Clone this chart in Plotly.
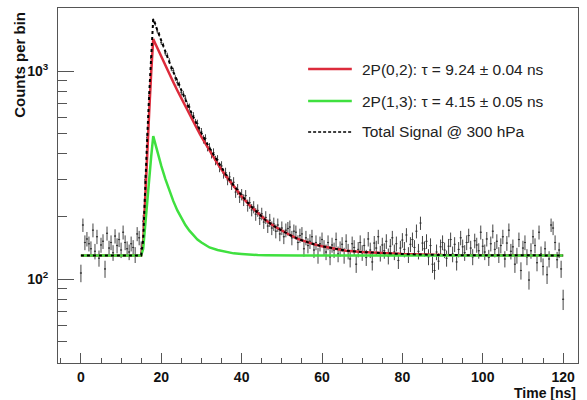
import plotly.graph_objects as go

# ---------------- data ----------------
bin_start = 0.0
bin_width = 0.5
counts = [
    # 0.0 - 14.5 ns
    107, 182, 150, 156, 148, 140, 172, 136, 160, 126, 146, 152, 112, 166, 141,
    150, 134, 161, 145, 155, 138, 168, 150, 140, 135, 148, 142, 131, 165, 158,
    # 15.0 - 17.5 ns (rise)
    140, 190, 300, 480, 760, 1150,
    # 18.0 - 60.0 ns (decay)
    1750, 1690, 1560, 1500, 1370, 1330, 1220, 1190, 1120, 1030,
    1005, 925, 880, 860, 790, 775, 740, 680, 672, 615,
    610, 565, 560, 515, 510, 470, 475, 432, 430, 400,
    405, 372, 375, 345, 350, 322, 325, 300, 310, 285,
    292, 262, 270, 248, 255, 240, 252, 226, 233, 215,
    222, 205, 214, 196, 206, 188, 198, 180, 192, 176,
    184, 170, 182, 165, 176, 160, 172, 175, 178, 158,
    170, 168, 150, 162, 165, 140, 158, 145, 152, 160,
    138, 150, 130, 148, 155,
    # 60.5 - 120.0 ns (background)
    142, 135, 150, 128, 146, 138, 155, 132, 140, 147,
    130, 152, 136, 125, 148, 142, 118, 139, 150, 134,
    145, 127, 156, 138, 121, 149, 141, 160, 133, 146,
    137, 152, 129, 144, 158, 135, 148, 123, 141, 154,
    139, 163, 131, 147, 155, 142, 170, 136, 186, 149,
    140, 152, 128, 145, 118, 110, 135, 122, 143, 150,
    138, 126, 144, 155, 132, 147, 121, 139, 158, 143,
    134, 150, 162, 141, 128, 153, 146, 137, 168, 144,
    135, 156, 127, 148, 170, 139, 152, 131, 145, 160,
    125, 149, 172, 136, 143, 118, 130, 155, 110, 141,
    150, 128, 99, 137, 160, 145, 120, 168, 132, 115,
    140, 105, 125, 182, 176, 150, 124, 138, 112, 80,
]
time_ns = [bin_start + i * bin_width for i in range(len(counts))]
count_err = [c ** 0.5 for c in counts]

fit_t = [0, 15, 15.5, 16, 16.5, 17, 17.5, 18, 18.5, 19, 19.5, 20, 21, 22, 23, 24,
         25, 26, 27, 28, 29, 30, 32, 34, 36, 38, 40, 42, 44, 46, 48, 50, 52,
         54, 56, 58, 60, 63, 66, 70, 75, 80, 90, 100, 120]
fit_red = [130, 130, 150, 260, 400, 640, 990, 1425, 1357, 1292, 1231, 1173, 1066,
           970, 884, 807, 738, 675, 619, 569, 524, 483, 415, 359, 315, 279, 250,
           226, 208, 192, 180, 171, 163, 156, 151, 147, 144, 140, 137, 135, 133,
           132, 130.5, 130, 130]
fit_green = [130, 130, 140, 185, 240, 310, 390, 487, 446, 411, 379, 350, 303,
             266, 237, 214, 196, 182, 171, 162, 155, 150, 142, 138, 135, 133, 132,
             131, 130.5, 130.3, 130, 130, 130, 130, 130, 130, 130, 130, 130, 130,
             130, 130, 130, 130, 130]
fit_total = [130, 130, 155, 300, 480, 780, 1200, 1782, 1673, 1573, 1480, 1393,
             1239, 1106, 991, 891, 803, 727, 660, 601, 549, 503, 427, 367, 320,
             282, 252, 227, 208.5, 192, 180, 171, 163, 156, 151, 147, 144, 140,
             137, 135, 133, 132, 130.5, 130, 130]

legend_labels = ["2P(0,2): \u03c4 = 9.24 \u00b1 0.04 ns",
                 "2P(1,3): \u03c4 = 4.15 \u00b1 0.05 ns",
                 "Total Signal @ 300 hPa"]

x_range = [-5.7, 123.7]
y_range_log = [1.597, 3.303]
y_major = [100, 1000]
y_major_text = ["10<sup>2</sup>", "10<sup>3</sup>"]
y_minor = [50, 60, 70, 80, 90, 200, 300, 400, 500, 600, 700, 800, 900, 2000]

# ---------------- styles ----------------
RED = "#dc2b3b"
GREEN = "#3fe03f"
FONT = "Liberation Sans, Arial, Helvetica, sans-serif"

fig = go.Figure()

fig.add_trace(go.Scatter(
    x=time_ns, y=counts, mode="markers",
    marker=dict(size=1.5, color="#333"),
    error_y=dict(type="data", array=count_err, color="#444", thickness=1, width=0),
    error_x=dict(type="constant", value=bin_width / 2, color="#444", thickness=1, width=0),
    showlegend=False, hoverinfo="skip"))

fig.add_trace(go.Scatter(x=fit_t, y=fit_red, mode="lines",
                         line=dict(color=RED, width=2.5), showlegend=False))
fig.add_trace(go.Scatter(x=fit_t, y=fit_green, mode="lines",
                         line=dict(color=GREEN, width=2.5), showlegend=False))
fig.add_trace(go.Scatter(x=fit_t, y=fit_total, mode="lines",
                         line=dict(color="black", width=2, dash="3px,3px"),
                         showlegend=False))

# manual legend (paper coordinates)
leg_styles = [dict(color=RED, width=2.5), dict(color=GREEN, width=2.5),
              dict(color="black", width=1.5, dash="3px,2px")]
leg_y = [0.828, 0.738, 0.651]
shapes = []
annotations = []
for lab, st, yy in zip(legend_labels, leg_styles, leg_y):
    shapes.append(dict(type="line", xref="paper", yref="paper",
                       x0=0.481, x1=0.565, y0=yy, y1=yy, line=st))
    annotations.append(dict(xref="paper", yref="paper", x=0.581, y=yy,
                            text=lab, showarrow=False, xanchor="left",
                            yanchor="middle",
                            font=dict(family=FONT, size=15.5, color="#222")))

annotations.append(dict(xref="paper", yref="paper", x=-0.073, y=0.995,
                        text="<b>Counts per bin</b>", textangle=-90,
                        showarrow=False, xanchor="center", yanchor="top",
                        font=dict(family=FONT, size=15, color="#111")))
annotations.append(dict(xref="paper", yref="paper", x=1.0, y=-0.085,
                        text="<b>Time [ns]</b>", showarrow=False,
                        xanchor="right", yanchor="middle",
                        font=dict(family=FONT, size=14, color="#111")))

fig.update_layout(
    width=587, height=400,
    margin=dict(l=58, r=9, t=8, b=37),
    paper_bgcolor="white", plot_bgcolor="white",
    shapes=shapes, annotations=annotations,
    showlegend=False,
    font=dict(family=FONT, color="#111"),
)

fig.update_xaxes(
    range=x_range, showgrid=False, zeroline=False,
    showline=True, linecolor="#555", linewidth=1, mirror=True,
    ticks="inside", ticklen=10, tickcolor="#555", tick0=0, dtick=20,
    tickfont=dict(family=FONT, size=14, color="#111", weight="bold"),
    ticklabelstandoff=1,
    minor=dict(ticks="inside", ticklen=5, dtick=5, tick0=0, tickcolor="#555"),
)
fig.update_yaxes(
    type="log", range=y_range_log, showgrid=False, zeroline=False,
    showline=True, linecolor="#555", linewidth=1, mirror=True,
    ticks="inside", ticklen=16, tickcolor="#555",
    tickmode="array", tickvals=y_major, ticktext=y_major_text,
    tickfont=dict(family=FONT, size=14, color="#111", weight="bold"),
    ticklabelstandoff=6,
    minor=dict(ticks="inside", ticklen=9, tickmode="array", tickvals=y_minor,
               tickcolor="#555"),
)

fig.write_html("out.html", config={"displayModeBar": False},
               post_script="document.body.style.margin='0';document.body.style.padding='0';")
